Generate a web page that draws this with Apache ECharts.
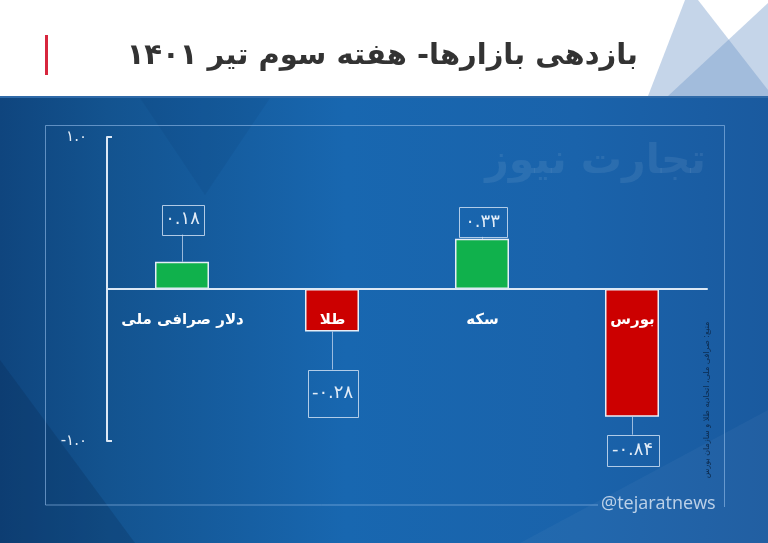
<!DOCTYPE html>
<html>
<head>
<meta charset="utf-8">
<style>
  html, body { margin: 0; padding: 0; background: #ffffff; }
  #chart { width: 768px; height: 543px; }
</style>
<script src="https://cdn.jsdelivr.net/npm/echarts@6/dist/echarts.min.js"></script>
</head>
<body>
<div id="chart"></div>
<script>
// Weekly market returns, third week of Tir 1401
const categories = ['دلار صرافی ملی', 'طلا', 'سکه', 'بورس'];
const returns = [0.18, -0.28, 0.33, -0.84];
const yTicks = [-1, 0, 1];

// Callout box layout (px): gap from bar end, box width, box height
const calloutGap = [27, 38, 2, 18];
const calloutWidth = [42, 50, 48, 52];
const calloutHeight = [30, 47, 30, 31];

const titleText = 'بازدهی بازارها- هفته سوم تیر ۱۴۰۱';
const sourceText = 'منبع: صرافی ملی، اتحادیه طلا و سازمان بورس';
const watermarkText = 'تجارت نیوز';
const handleText = '@tejaratnews';

const FA_DIGITS = '۰۱۲۳۴۵۶۷۸۹';
function toFa(s) {
  return String(s).replace(/[0-9]/g, d => FA_DIGITS[+d]);
}

const FONT = '"DejaVu Sans", sans-serif';
const LINE = '#dce8f5';

const chart = echarts.init(document.getElementById('chart'), null, { renderer: 'canvas' });

const option = {
  animation: false,
  backgroundColor: '#ffffff',
  graphic: [
    // blue panel
    {
      type: 'rect', z: -10, silent: true,
      shape: { x: 0, y: 96, width: 768, height: 447 },
      style: {
        fill: new echarts.graphic.LinearGradient(0, 0, 1, 0, [
          { offset: 0, color: '#0f457e' },
          { offset: 0.14, color: '#13538f' },
          { offset: 0.45, color: '#1867b0' },
          { offset: 0.75, color: '#1a63ab' },
          { offset: 1, color: '#1a5a9f' }
        ])
      }
    },
    { type: 'rect', z: -9, silent: true, shape: { x: 0, y: 96, width: 768, height: 2 }, style: { fill: '#2f6aa8' } },
    { type: 'polygon', z: -9, silent: true, shape: { points: [[0, 360], [135, 543], [0, 543]] }, style: { fill: 'rgba(5,25,60,0.18)' } },
    { type: 'polygon', z: -9, silent: true, shape: { points: [[520, 543], [768, 410], [768, 543]] }, style: { fill: 'rgba(255,255,255,0.035)' } },
    { type: 'polygon', z: -9, silent: true, shape: { points: [[140, 98], [270, 98], [205, 195]] }, style: { fill: 'rgba(5,30,70,0.07)' } },
    // header corner triangles
    { type: 'polygon', z: -8, silent: true, shape: { points: [[685, 0], [698, 0], [768, 90], [768, 96], [648, 96]] }, style: { fill: 'rgba(110,150,200,0.4)' } },
    { type: 'polygon', z: -8, silent: true, shape: { points: [[768, 3], [668, 96], [768, 96]] }, style: { fill: 'rgba(110,150,200,0.4)' } },
    // title + accent bar
    { type: 'rect', z: 10, silent: true, shape: { x: 45, y: 35, width: 3, height: 40 }, style: { fill: '#d7263d' } },
    {
      type: 'text', z: 10, silent: true, x: 638, y: 56,
      style: { text: titleText, fill: '#333333', font: 'bold 29px ' + FONT, align: 'right', verticalAlign: 'middle' }
    },
    // watermark
    {
      type: 'text', z: -5, silent: true, x: 706, y: 162,
      style: { text: watermarkText, fill: 'rgba(255,255,255,0.08)', font: 'bold 41px ' + FONT, align: 'right', verticalAlign: 'middle' }
    },
    // frame
    { type: 'polyline', z: -5, silent: true, shape: { points: [[598, 505], [45.5, 505], [45.5, 125.5], [724.5, 125.5], [724.5, 507]] }, style: { stroke: 'rgba(150,190,235,0.6)', lineWidth: 1, fill: null } },
    {
      type: 'text', z: 10, silent: true, x: 601, y: 504,
      style: { text: handleText, fill: 'rgba(215,228,243,0.85)', font: '18px "Open Sans", sans-serif', align: 'left', verticalAlign: 'middle' }
    },
    // source note (vertical)
    {
      type: 'text', z: 10, silent: true, x: 707, y: 400, rotation: Math.PI / 2,
      style: { text: sourceText, fill: '#0c2a4d', font: '8px ' + FONT, align: 'center', verticalAlign: 'middle' }
    }
  ],
  grid: { left: 107, right: 61, top: 137, bottom: 102, containLabel: false },
  xAxis: {
    type: 'category',
    data: categories,
    z: 5,
    axisLine: { onZero: true, lineStyle: { color: LINE, width: 2 } },
    axisTick: { show: false },
    axisLabel: { show: false },
    splitLine: { show: false }
  },
  yAxis: {
    type: 'value',
    min: yTicks[0],
    max: yTicks[yTicks.length - 1],
    interval: 1,
    axisLine: { show: true, lineStyle: { color: LINE, width: 2 } },
    axisTick: { show: true, inside: true, length: 5, lineStyle: { color: LINE, width: 2 } },
    splitLine: { show: false },
    axisLabel: {
      margin: 20, color: '#e3ecf6', fontFamily: FONT, fontSize: 15,
      formatter: v => (v === 0 ? '' : toFa(v.toFixed(1)))
    }
  },
  series: [
    {
      type: 'bar',
      barWidth: 54,
      z: 2,
      data: returns.map(v => ({
        value: v,
        itemStyle: { color: v >= 0 ? '#10b14c' : '#cc0000', borderColor: '#e6eef7', borderWidth: 1.5 }
      }))
    },
    {
      // value callouts and category names
      type: 'custom',
      z: 6,
      silent: true,
      data: returns.map((v, i) => [i, v]),
      renderItem: function (params, api) {
        const i = api.value(0);
        const v = api.value(1);
        const end = api.coord([i, v]);
        const zero = api.coord([i, 0]);
        const dir = v >= 0 ? -1 : 1;
        const w = calloutWidth[i], h = calloutHeight[i];
        const nearY = end[1] + dir * calloutGap[i];
        const boxY = dir < 0 ? nearY - h : nearY;
        const cx = Math.round(end[0]) + 0.5;
        return {
          type: 'group',
          children: [
            { type: 'line', shape: { x1: cx, y1: end[1], x2: cx, y2: nearY }, style: { stroke: 'rgba(200,218,240,0.75)', lineWidth: 1 } },
            { type: 'rect', shape: { x: Math.round(cx - w / 2) + 0.5, y: Math.round(boxY) + 0.5, width: w, height: h }, style: { fill: 'rgba(0,0,0,0)', stroke: 'rgba(205,222,242,0.85)', lineWidth: 1 } },
            { type: 'text', x: cx, y: boxY + h / 2, style: { text: toFa(v.toFixed(2)), fill: '#e2ecf7', font: '18px ' + FONT, align: 'center', verticalAlign: 'middle' } },
            { type: 'text', x: cx, y: zero[1] + 31, style: { text: categories[i], fill: '#ffffff', font: 'bold 15px ' + FONT, align: 'center', verticalAlign: 'middle' } }
          ]
        };
      }
    }
  ]
};

chart.setOption(option);
</script>
</body>
</html>
